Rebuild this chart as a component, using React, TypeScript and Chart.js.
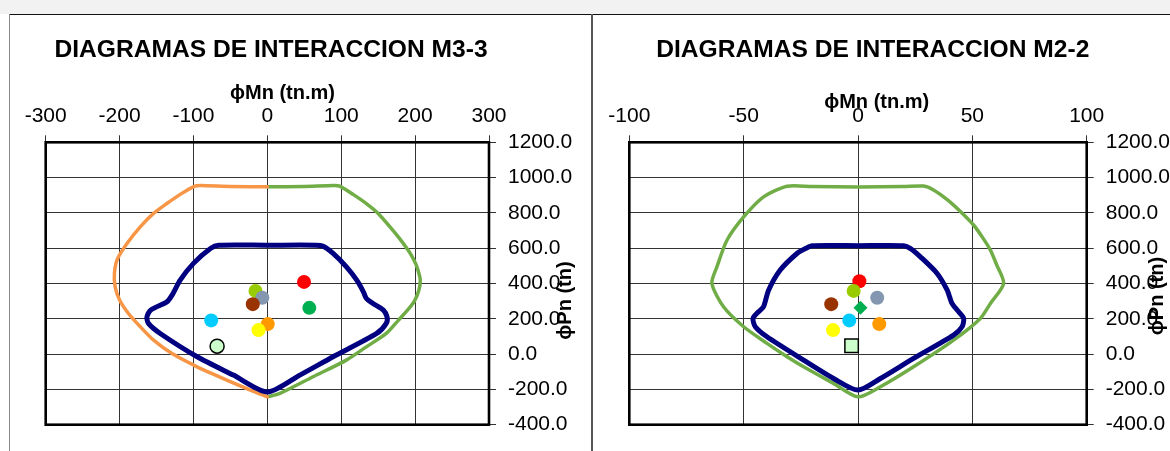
import React, { useEffect, useRef } from 'react';
import { Chart, registerables } from 'chart.js';

Chart.register(...registerables);

// ---------- M3-3 data ----------
const m33GreenM = [0, 50, 90, 98, 116, 134, 150, 166, 178, 188, 195, 201, 205, 207, 205, 199, 190, 177, 161, 134, 107, 62, 17, 0];
const m33GreenP = [948, 950, 955, 952, 905, 853, 797, 721, 660, 604, 560, 510, 460, 419, 360, 300, 250, 190, 117, 41, -34, -128, -223, -242];
const m33OrangeM = [0, -50, -90, -98, -118, -136, -154, -172, -190, -203, -207, -206, -200, -188, -172, -154, -129, -95, -55, -23, 0];
const m33OrangeP = [948, 950, 955, 952, 905, 853, 797, 721, 627, 538, 457, 381, 306, 230, 155, 79, 3, -72, -147, -204, -242];
const m33NavyM = [0, 66, 75, 89, 107, 121, 130, 134, 143, 157, 162, 161, 148, 89, 44, 0, -46, -95, -145, -161, -163, -158, -136, -129, -118, -100, -77, -66, 0];
const m33NavyP = [617, 617, 612, 570, 494, 419, 353, 315, 287, 249, 211, 174, 117, -15, -119, -215, -119, -15, 117, 174, 211, 249, 296, 334, 419, 514, 598, 617, 617];
const m33PointM = [49.6, 56.8, -16, -6.8, -19.7, 0.5, -12, -76, -68];
const m33PointP = [409, 262, 358, 319, 283, 170, 136, 191, 45];
const m33PointColors = ['#FF0000', '#00B050', '#99CC00', '#8497B0', '#993300', '#FF9900', '#FFFF00', '#00CCFF', '#CCFFCC'];
const m33PointStyles = ['circle', 'circle', 'circle', 'circle', 'circle', 'circle', 'circle', 'circle', 'circle'];

// ---------- M2-2 data ----------
const m22GreenM = [0, 20, 28.7, 33, 39, 45, 50.6, 54.5, 57.9, 60.5, 63.7, 57.9, 53.5, 41.8, 24.3, 9.8, 0, -10.7, -23.8, -31, -39.8, -50, -58.8, -63.9, -61.7, -57.3, -50, -41.3, -31, -20, 0];
const m22GreenP = [947, 949, 952, 930, 875, 805, 730, 660, 589, 510, 400, 287, 202, 79, -72, -185, -242, -166, -72, -15, 61, 155, 268, 400, 494, 645, 777, 891, 951, 949, 947];
const m22NavyM = [0, 20, 23, 27.3, 34.6, 39, 41.1, 44, 46.2, 45.5, 41.8, 24.3, 9.8, 0, -10.7, -23.8, -39.8, -44.9, -45.9, -43.5, -41.3, -39.1, -34, -26.7, -23, -20, 0];
const m22NavyP = [614, 614, 598, 551, 457, 362, 287, 240, 202, 155, 108, -24, -138, -204, -138, -34, 98, 155, 202, 240, 268, 362, 476, 570, 598, 614, 614];
const m22PointM = [0.6, -1.9, 8.4, -11.7, 1.1, 9.3, -10.9, -3.8, -2.8];
const m22PointP = [413, 358, 319, 283, 262, 170, 136, 191, 47];
const m22PointColors = ['#FF0000', '#99CC00', '#8497B0', '#993300', '#00B050', '#FF9900', '#FFFF00', '#00CCFF', '#CCFFCC'];
const m22PointStyles = ['circle', 'circle', 'circle', 'circle', 'rectRot', 'circle', 'circle', 'circle', 'rect'];

// ---------- axes ----------
const m33XTicks = [-300, -200, -100, 0, 100, 200, 300];
const m22XTicks = [-100, -50, 0, 50, 100];
const pTicks = [-400, -200, 0, 200, 400, 600, 800, 1000, 1200];

const FONT = "'Liberation Sans', Arial, sans-serif";

const zip = (xs: number[], ys: number[]) => xs.map((x, i) => ({ x, y: ys[i] }));

const framePlugin = {
  id: 'frame',
  beforeDatasetsDraw(chart: any) {
    const { ctx, chartArea: a } = chart;
    ctx.save();
    ctx.strokeStyle = '#000';
    ctx.lineWidth = 2.6;
    ctx.strokeRect(a.left, a.top, a.right - a.left, a.bottom - a.top);
    ctx.restore();
  },
};

const textPlugin = {
  id: 'texts',
  afterDraw(chart: any, _args: any, o: any) {
    const ctx = chart.ctx;
    ctx.save();
    ctx.fillStyle = '#000';
    ctx.textAlign = 'center';
    ctx.textBaseline = 'alphabetic';
    ctx.font = `bold 24.6px ${FONT}`;
    ctx.fillText(o.title, o.titleX, o.titleY);
    ctx.font = `bold 20px ${FONT}`;
    ctx.fillText(o.xTitle, o.xTitleX, o.xTitleY);
    ctx.translate(o.yTitleX, o.yTitleY);
    ctx.rotate(-Math.PI / 2);
    ctx.textBaseline = 'middle';
    ctx.fillText(o.yTitle, 0, 0);
    ctx.restore();
  },
};

type PanelProps = {
  width: number;
  height: number;
  left: number;
  top: number;
  xTicks: number[];
  curves: { m: number[]; p: number[]; color: string; width: number }[];
  pointM: number[];
  pointP: number[];
  pointColors: string[];
  pointStyles: string[];
  padLeft: number;
  padBottom: number;
  xHeight: number;
  yWidth: number;
  texts: any;
};

function Panel(props: PanelProps) {
  const ref = useRef<HTMLCanvasElement>(null);
  useEffect(() => {
    const xt = props.xTicks;
    const datasets: any[] = [
      {
        label: 'points',
        data: zip(props.pointM, props.pointP),
        showLine: false,
        pointBackgroundColor: props.pointColors,
        pointBorderColor: props.pointColors.map((c) => (c === '#CCFFCC' ? '#000' : c)),
        pointBorderWidth: props.pointColors.map((c) => (c === '#CCFFCC' ? 1.5 : 0)),
        pointRadius: props.pointStyles.map((s) => (s === 'rect' ? 9.5 : 7)),
        pointStyle: props.pointStyles,
      },
      ...props.curves.map((c) => ({
        label: 'curve',
        data: zip(c.m, c.p),
        showLine: true,
        borderColor: c.color,
        borderWidth: c.width,
        pointRadius: 0,
        tension: 0.25,
        fill: false,
        borderCapStyle: 'round',
        borderJoinStyle: 'round',
      })),
    ];
    const chart = new Chart(ref.current as HTMLCanvasElement, {
      type: 'scatter',
      data: { datasets },
      plugins: [framePlugin, textPlugin],
      options: {
        animation: false,
        responsive: false,
        events: [],
        layout: { padding: { left: props.padLeft, right: 0, top: 0, bottom: props.padBottom } },
        plugins: {
          legend: { display: false },
          tooltip: { enabled: false },
          texts: props.texts,
        } as any,
        scales: {
          x: {
            type: 'linear',
            position: 'top',
            min: xt[0],
            max: xt[xt.length - 1],
            afterBuildTicks: (s: any) => {
              s.ticks = xt.map((v) => ({ value: v }));
            },
            afterFit: (s: any) => {
              s.height = props.xHeight;
            },
            grid: { color: '#333', lineWidth: 1, tickLength: 7, drawTicks: true },
            border: { display: false },
            ticks: {
              color: '#000',
              padding: 6,
              maxRotation: 0,
              autoSkip: false,
              font: { family: FONT, size: 21 },
              callback: (v: any) => String(v),
            },
          },
          y: {
            type: 'linear',
            position: 'right',
            min: pTicks[0],
            max: pTicks[pTicks.length - 1],
            afterBuildTicks: (s: any) => {
              s.ticks = pTicks.map((v) => ({ value: v }));
            },
            afterFit: (s: any) => {
              s.width = props.yWidth;
            },
            grid: { color: '#333', lineWidth: 1, tickLength: 7, drawTicks: true },
            border: { display: false },
            ticks: {
              color: '#000',
              padding: 12,
              autoSkip: false,
              font: { family: FONT, size: 21 },
              callback: (v: any) => Number(v).toFixed(1),
            },
          },
        },
      } as any,
    });
    return () => chart.destroy();
  }, []);
  return (
    <canvas
      ref={ref}
      width={props.width}
      height={props.height}
      style={{ position: 'absolute', left: props.left, top: props.top, width: props.width, height: props.height }}
    />
  );
}

export default function App() {
  return (
    <div style={{ position: 'fixed', left: 0, top: 0, width: 1170, height: 451, overflow: 'hidden', background: '#fff' }}>
      <div style={{ position: 'absolute', left: 0, top: 0, width: 1170, height: 14, background: '#f2f2f2' }} />
      <div style={{ position: 'absolute', left: 9, top: 14, width: 1161, height: 1, background: '#111' }} />
      <div style={{ position: 'absolute', left: 9, top: 14, width: 1, height: 437, background: '#888' }} />
      <div style={{ position: 'absolute', left: 591, top: 14, width: 2, height: 437, background: '#555' }} />
      <Panel
        left={10}
        top={15}
        width={580}
        height={436}
        xTicks={m33XTicks}
        curves={[
          { m: m33NavyM, p: m33NavyP, color: '#000080', width: 5 },
          { m: m33OrangeM, p: m33OrangeP, color: '#F79646', width: 3.5 },
          { m: m33GreenM, p: m33GreenP, color: '#70AD47', width: 3.5 },
        ]}
        pointM={m33PointM}
        pointP={m33PointP}
        pointColors={m33PointColors}
        pointStyles={m33PointStyles}
        padLeft={35.7}
        padBottom={26.3}
        xHeight={127.3}
        yWidth={101}
        texts={{
          title: 'DIAGRAMAS DE INTERACCION M3-3',
          titleX: 261,
          titleY: 42,
          xTitle: 'ϕMn (tn.m)',
          xTitleX: 272.5,
          xTitleY: 84,
          yTitle: 'ϕPn (tn)',
          yTitleX: 555,
          yTitleY: 285.5,
        }}
      />
      <Panel
        left={593}
        top={15}
        width={600}
        height={436}
        xTicks={m22XTicks}
        curves={[
          { m: m22NavyM, p: m22NavyP, color: '#000080', width: 5 },
          { m: m22GreenM, p: m22GreenP, color: '#70AD47', width: 3.5 },
        ]}
        pointM={m22PointM}
        pointP={m22PointP}
        pointColors={m22PointColors}
        pointStyles={m22PointStyles}
        padLeft={36.3}
        padBottom={26.3}
        xHeight={127.3}
        yWidth={106.3}
        texts={{
          title: 'DIAGRAMAS DE INTERACCION M2-2',
          titleX: 279.8,
          titleY: 42,
          xTitle: 'ϕMn (tn.m)',
          xTitleX: 283.7,
          xTitleY: 93,
          yTitle: 'ϕPn (tn)',
          yTitleX: 564,
          yTitleY: 281,
        }}
      />
    </div>
  );
}
